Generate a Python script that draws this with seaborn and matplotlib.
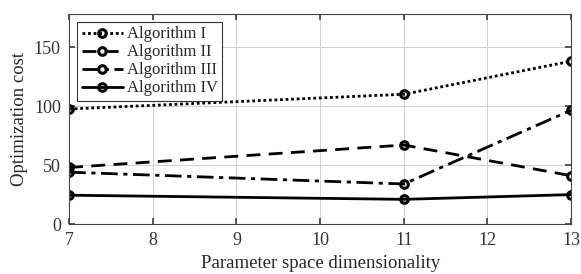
import numpy as np
import pandas as pd
import matplotlib
matplotlib.use("Agg")
import matplotlib.pyplot as plt
import seaborn as sns

dims = [7, 11, 13]
alg1 = [97.5, 110, 138]
alg2 = [48, 67, 41]
alg3 = [44, 34, 96.5]
alg4 = [24.5, 21, 25]
names = ["Algorithm I", "Algorithm II", "Algorithm III", "Algorithm IV"]
styles = [(0, (1, 1)), (0, (5, 3)), (0, (6, 2, 1.5, 2)), "-"]

sns.set_theme(style="whitegrid")
plt.rcParams["font.family"] = ["Liberation Serif", "DejaVu Serif"]

df = pd.DataFrame({"dim": dims * 4,
                   "cost": alg1 + alg2 + alg3 + alg4,
                   "alg": [n for n in names for _ in dims]})

fig, ax = plt.subplots(figsize=(5.81, 2.74), dpi=100)
for name, ls in zip(names, styles):
    sub = df[df["alg"] == name]
    sns.lineplot(data=sub, x="dim", y="cost", ax=ax, color="black", lw=2,
                 linestyle=ls, marker="o", markersize=5.5, markerfacecolor="none",
                 markeredgecolor="black", markeredgewidth=2.2, legend=False)

ax.set_xlim(7, 13)
ax.set_ylim(0, 178)
ax.set_xticks(range(7, 14))
ax.set_yticks([0, 50, 100, 150])
ax.set_xlabel("Parameter space dimensionality", fontsize=13.5, labelpad=4)
ax.set_ylabel("Optimization cost", fontsize=13.5, labelpad=4)
ax.tick_params(axis="both", labelsize=13, direction="in", length=4, color="#444444",
               labelcolor="#333333", bottom=True, left=True, top=True, right=True, pad=6)
ax.grid(True, color="#d0d0d0", lw=0.7)
for s in ax.spines.values():
    s.set_color("#444444")
    s.set_linewidth(0.8)
leg = ax.legend(ax.get_lines()[:4], names, loc="upper left", fontsize=12, frameon=True,
                fancybox=False, handlelength=2.5, borderpad=0.25, labelspacing=0.12,
                handletextpad=0.2, borderaxespad=0.5)
leg.get_frame().set_edgecolor("#333333")
leg.get_frame().set_linewidth(0.8)
leg.get_frame().set_alpha(1)

fig.subplots_adjust(left=0.119, right=0.983, top=0.949, bottom=0.182)
fig.savefig("out.png", dpi=100)
